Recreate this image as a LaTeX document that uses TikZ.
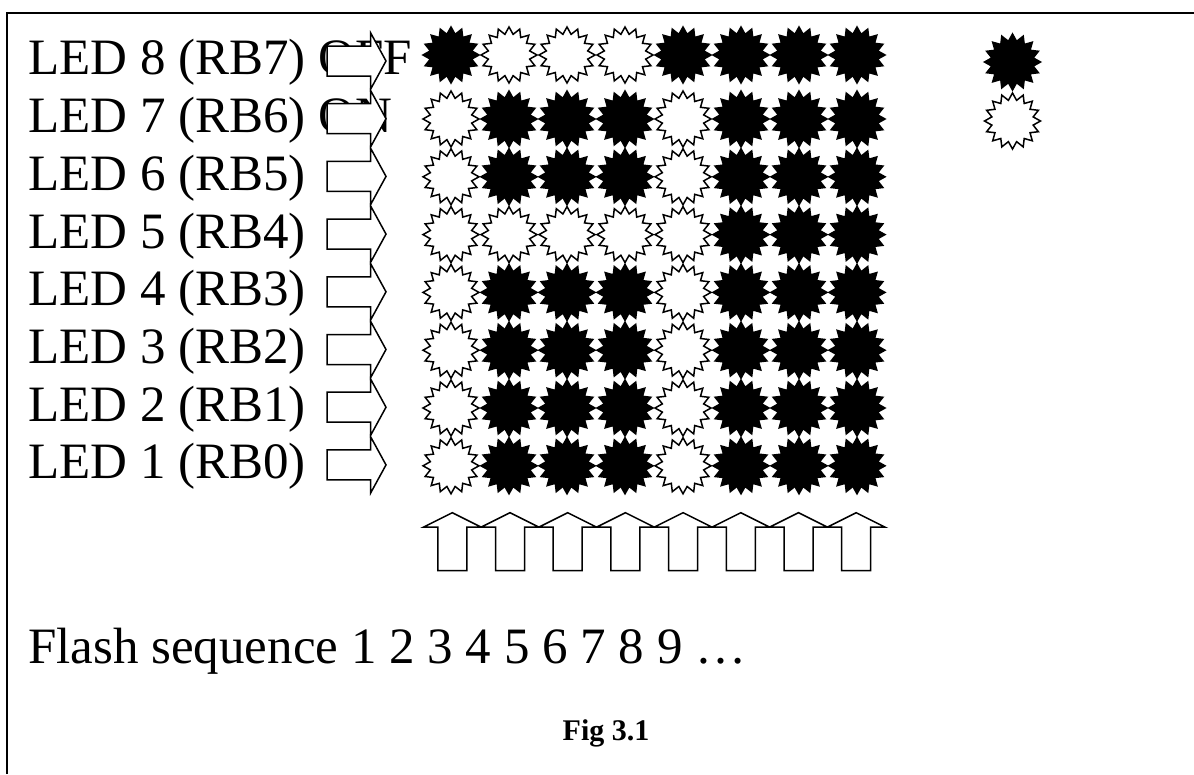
\documentclass[tikz,border=0pt]{standalone}
\usepackage{fontspec}
\setmainfont{Liberation Serif}
\usetikzlibrary{shapes.geometric}
\begin{document}
\begin{tikzpicture}[x=1pt,y=-1pt,
  led/.style={star, star points=16, star point ratio=1.33, minimum size=56pt, inner sep=0pt, draw=black, line width=1.5pt},
  s1/.style={led, fill=black},
  s0/.style={led, fill=white},
  lbl/.style={anchor=base west, inner sep=0pt, font=\fontsize{51}{60}\selectfont},
  arrowshape/.style={draw=black, fill=white, line width=1.5pt, line join=miter},
  rarrow/.pic={\draw[arrowshape] (-29.5,-15) -- (14.2,-15) -- (14.2,-28) -- (29.5,0) -- (14.2,28) -- (14.2,15) -- (-29.5,15) -- cycle;},
  uarrow/.pic={\draw[arrowshape] (-14.5,29) -- (-14.5,-14.5) -- (-29,-14.5) -- (0,-29) -- (29,-14.5) -- (14.5,-14.5) -- (14.5,29) -- cycle;}
]
\useasboundingbox (0,0) rectangle (1194,774);
% frame
\draw[line width=2pt] (7,774) -- (7,13) -- (1194,13);
% labels
\node[lbl] (l8) at (28,74) {LED 8 (RB7) OFF};
\node[lbl] (l7) at (28,132.7) {LED 7 (RB6) ON};
\node[lbl] (l6) at (28,190.4) {LED 6 (RB5)};
\node[lbl] (l5) at (28,248.1) {LED 5 (RB4)};
\node[lbl] (l4) at (28,305.8) {LED 4 (RB3)};
\node[lbl] (l3) at (28,363.5) {LED 3 (RB2)};
\node[lbl] (l2) at (28,421.2) {LED 2 (RB1)};
\node[lbl] (l1) at (28,478.9) {LED 1 (RB0)};
% right arrows
\foreach \k in {0,...,7}
  \pic (ra\k) at (356.5,{61+57.7*\k}) {rarrow};
% star grid
\foreach \row [count=\r from 0] in {{1,0,0,0,1,1,1,1},{0,1,1,1,0,1,1,1},{0,1,1,1,0,1,1,1},{0,0,0,0,0,1,1,1},{0,1,1,1,0,1,1,1},{0,1,1,1,0,1,1,1},{0,1,1,1,0,1,1,1},{0,1,1,1,0,1,1,1}} {
  \pgfmathsetmacro\yy{\r==0 ? 55 : 119+57.8*(\r-1)}
  \foreach \v [count=\c from 0] in \row
    \node[s\v] (s-\r-\c) at ({451+58*\c},\yy) {};
}
% up arrows
\foreach \k in {0,...,7}
  \pic (ua\k) at ({452.3+57.7*\k},541.7) {uarrow};
% legend
\node[s1] (legon) at (1012.5,62) {};
\node[s0] (legoff) at (1012.5,121) {};
% bottom text
\node[lbl] (flash) at (28,663) {Flash sequence 1 2 3 4 5 6 7 8 9 …};
\node[anchor=base, inner sep=0pt, font=\bfseries\fontsize{30}{35}\selectfont] (fig) at (606,740) {Fig 3.1};
\end{tikzpicture}
\end{document}
